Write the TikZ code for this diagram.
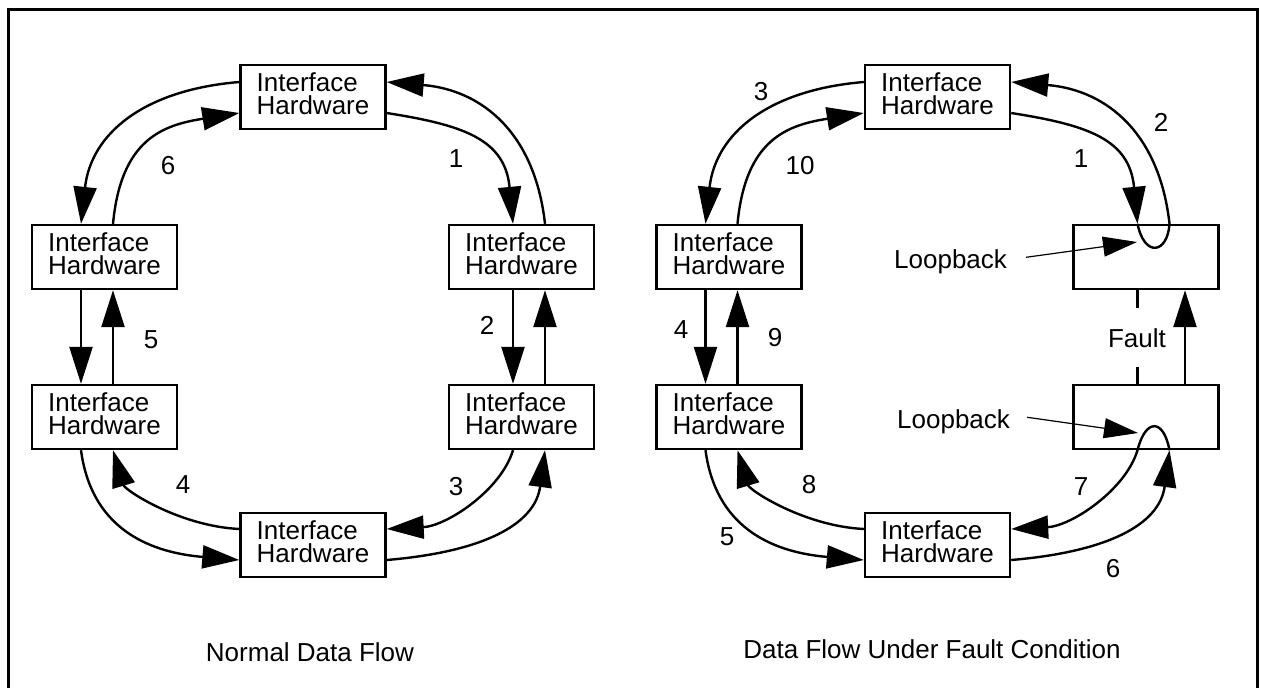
\documentclass[tikz,border=0pt]{standalone}
\usepackage{fontspec}
\setmainfont{Liberation Sans}
\usetikzlibrary{arrows.meta}
\begin{document}
\begin{tikzpicture}[x=1pt,y=1pt,
  hw/.style={draw, line width=2.4pt, minimum width=145pt, minimum height=64pt, inner sep=0pt, align=left, text depth=7pt, font=\fontsize{26}{23.5}\selectfont},
  lbl/.style={inner sep=0pt, font=\fontsize{26}{23.5}\selectfont},
  flow/.style={line width=2.4pt, -{Triangle[length=37pt,width=23pt]}},
  plainline/.style={line width=2.4pt},
  ptr/.style={line width=1.2pt, -{Triangle[length=34pt,width=20pt]}}
]
\useasboundingbox (0,0) rectangle (1261,-688);
\clip (0,0) rectangle (1261,-688);
\draw[line width=3pt] (8.7,-700) -- (8.7,-9.7) -- (1257,-9.7) -- (1257,-700);

% ---------- left diagram ----------
\node[hw] (T)  at (313,-97)    {Interface\\Hardware};
\node[hw] (ML) at (104.5,-257) {Interface\\Hardware};
\node[hw] (MR) at (521.5,-257) {Interface\\Hardware};
\node[hw] (LL) at (104.5,-417) {Interface\\Hardware};
\node[hw] (LR) at (521.5,-417) {Interface\\Hardware};
\node[hw] (B)  at (313,-545)   {Interface\\Hardware};

\draw[flow] ([yshift=15pt]T.west) .. controls +(-96,-8) and +(10,90) .. ([xshift=-23.5pt]ML.north);
\draw[flow] ([xshift=8.5pt]ML.north) .. controls +(8,85) and +(-76,-12) .. ([yshift=-16pt]T.west);
\draw[flow] ([yshift=-16pt]T.east) .. controls +(76,-12) and +(-8,85) .. ([xshift=-8.5pt]MR.north);
\draw[flow] ([xshift=23.5pt]MR.north) .. controls +(-10,90) and +(96,-8) .. ([yshift=15pt]T.east);

\draw[flow] ([xshift=-23.5pt]ML.south) -- ([xshift=-23.5pt]LL.north);
\draw[flow] ([xshift=8.5pt]LL.north) -- ([xshift=8.5pt]ML.south);
\draw[flow] ([xshift=-8.5pt]MR.south) -- ([xshift=-8.5pt]LR.north);
\draw[flow] ([xshift=23.5pt]LR.north) -- ([xshift=23.5pt]MR.south);

\draw[flow] ([xshift=-23.5pt]LL.south) .. controls +(10,-75) and +(-95,8) .. ([yshift=-15pt]B.west);
\draw[flow] ([yshift=16pt]B.west) .. controls +(-60,3) and +(12,-40) .. ([xshift=8.5pt]LL.south);
\draw[flow] ([xshift=-8.5pt]LR.south) .. controls +(-12,-40) and +(60,3) .. ([yshift=16pt]B.east);
\draw[flow] ([yshift=-15pt]B.east) .. controls +(95,8) and +(-10,-75) .. ([xshift=23.5pt]LR.south);

\node[lbl] (n6) at (168,-166) {6};
\node[lbl] (n1) at (456,-159) {1};
\node[lbl] (n5) at (151,-340) {5};
\node[lbl] (n2) at (487,-325) {2};
\node[lbl] (n4) at (183,-485) {4};
\node[lbl] (n3) at (456,-487) {3};
\node[lbl] (t1) at (310,-652) {Normal Data Flow};

% ---------- right diagram ----------
\node[hw] (T2)  at (937.5,-97)  {Interface\\Hardware};
\node[hw] (ML2) at (729,-257)   {Interface\\Hardware};
\node[hw] (MR2) at (1146,-257)  {};
\node[hw] (LL2) at (729,-417)   {Interface\\Hardware};
\node[hw] (LR2) at (1146,-417)  {};
\node[hw] (B2)  at (937.5,-545) {Interface\\Hardware};

\draw[flow] ([yshift=15pt]T2.west) .. controls +(-96,-8) and +(10,90) .. ([xshift=-23.5pt]ML2.north);
\draw[flow] ([xshift=8.5pt]ML2.north) .. controls +(8,85) and +(-76,-12) .. ([yshift=-16pt]T2.west);
\draw[flow] ([yshift=-16pt]T2.east) .. controls +(76,-12) and +(-8,85) .. ([xshift=-8.5pt]MR2.north);
\draw[flow] ([xshift=-8.5pt]MR2.north) .. controls +(7,-34) and +(-2,-30) .. ([xshift=23.5pt]MR2.north)
            .. controls +(-10,90) and +(96,-8) .. ([yshift=15pt]T2.east);

\draw[flow] ([xshift=-23.5pt]ML2.south) -- ([xshift=-23.5pt]LL2.north);
\draw[flow] ([xshift=8.5pt]LL2.north) -- ([xshift=8.5pt]ML2.south);
\draw[plainline] ([xshift=-8.5pt]MR2.south) -- +(0,-18);
\draw[plainline] ([xshift=-8.5pt]LR2.north) -- +(0,17);
\draw[flow] ([xshift=39pt]LR2.north) -- ([xshift=39pt]MR2.south);

\draw[flow] ([xshift=-23.5pt]LL2.south) .. controls +(10,-75) and +(-95,8) .. ([yshift=-15pt]B2.west);
\draw[flow] ([yshift=16pt]B2.west) .. controls +(-60,3) and +(12,-40) .. ([xshift=8.5pt]LL2.south);
\draw[flow] ([yshift=-15pt]B2.east) .. controls +(95,8) and +(-10,-75) .. ([xshift=23.5pt]LR2.south);
\draw[flow] ([xshift=23.5pt]LR2.south) .. controls +(-6,32) and +(8,32) .. ([xshift=-8.5pt]LR2.south)
            .. controls +(-12,-40) and +(60,3) .. ([yshift=16pt]B2.east);

\node[lbl,anchor=base west] (lb1) at (894,-268) {Loopback};
\node[lbl,anchor=base west] (lb2) at (897,-428) {Loopback};
\coordinate (d1) at (1137,-242);
\coordinate (d2) at (1138,-433);
\draw[ptr] ([xshift=19pt,yshift=4pt]lb1.east) -- (d1);
\draw[ptr] ([xshift=17pt,yshift=4pt]lb2.east) -- (d2);

\node[lbl] (m3)  at (761,-92)   {3};
\node[lbl] (m2)  at (1161,-122) {2};
\node[lbl] (m10) at (800,-166)  {10};
\node[lbl] (m1)  at (1081,-159) {1};
\node[lbl] (m4)  at (681,-330)  {4};
\node[lbl] (m9)  at (775,-338)  {9};
\node[lbl] (flt) at (1137,-338) {Fault};
\node[lbl] (m8)  at (809,-485)  {8};
\node[lbl] (m7)  at (1081,-487) {7};
\node[lbl] (m5)  at (727,-537)  {5};
\node[lbl] (m6)  at (1113,-569) {6};
\node[lbl] (t2) at (932,-649) {Data Flow Under Fault Condition};
\end{tikzpicture}
\end{document}
